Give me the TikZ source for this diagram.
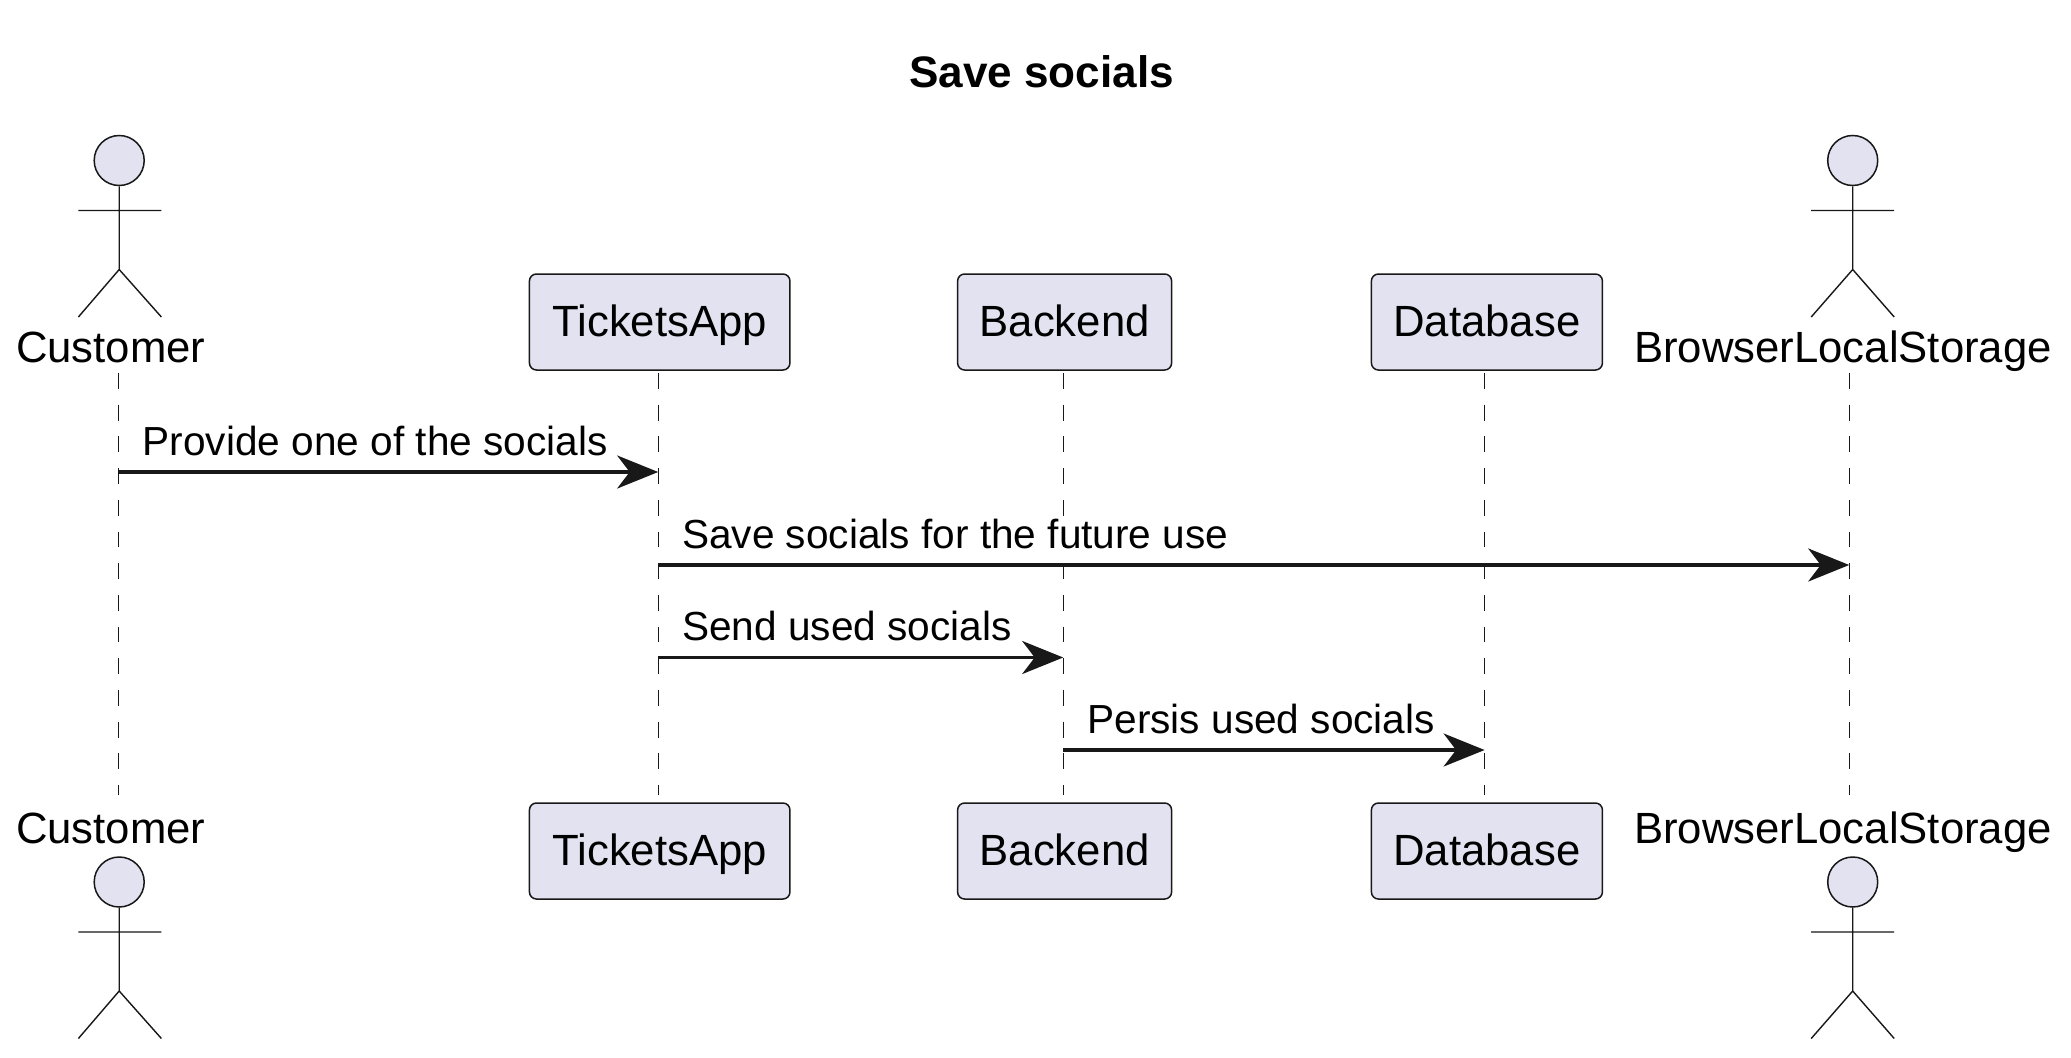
\documentclass[tikz,border=0pt]{standalone}
\usepackage{fontspec}
\setmainfont{Liberation Sans}
\usetikzlibrary{arrows.meta}
\definecolor{ink}{HTML}{181818}
\definecolor{partfill}{HTML}{E2E2F0}
\newcommand{\actorfig}[4]{% name, x of head, top of head, limb offset
  \node[head] (#1head) at (#2,#3+25) {};
  \coordinate (#1hip) at (#2,#3+134);
  \coordinate (#1lf) at (#2+#4-41.5,#3+181.5);
  \coordinate (#1rf) at (#2+#4+41.5,#3+181.5);
  \coordinate (#1al) at (#2+#4-41.5,#3+75);
  \coordinate (#1ar) at (#2+#4+41.5,#3+75);
  \draw[stick] (#1head.south) -- (#1hip) (#1al) -- (#1ar) (#1lf) -- (#1hip) -- (#1rf);
}
\tikzset{
  head/.style={circle,draw=ink,fill=partfill,line width=1.5pt,minimum size=50pt,inner sep=0pt},
  stick/.style={draw=ink,line width=1.4pt},
  partbox/.style={draw=ink,fill=partfill,line width=1.5pt,rounded corners=7pt,minimum height=96pt,inner sep=0pt,
     text height=29.4pt,text depth=0pt,font=\fontsize{43.7}{50}\selectfont,text=black},
  actorlabel/.style={inner sep=0pt,anchor=base,font=\fontsize{43.7}{50}\selectfont,text=black},
  msglabel/.style={inner sep=0pt,anchor=base west,font=\fontsize{40.6}{46}\selectfont,text=black},
  titlelabel/.style={inner sep=0pt,anchor=base,font=\bfseries\fontsize{44.1}{50}\selectfont,text=black},
  lifeline/.style={draw=ink,line width=1.4pt,dash pattern=on 15.8pt off 15.9pt},
  msg/.style={draw=ink,line width=3.4pt,-{Stealth[length=41pt,width=33pt,inset=12.5pt,ink]}},
}
\begin{document}
\begin{tikzpicture}[x=1pt,y=-1pt]
\useasboundingbox[fill=white] (0,0) rectangle (2071,1057);
\node[titlelabel] (title) at (1041.5,88) {Save socials};

% lifeline ends
\foreach \n/\x in {cust/118.3,tick/658.2,back/1063.2,data/1484.6,brow/1849.2}{
  \coordinate (\n top) at (\x,373);
  \coordinate (\n bot) at (\x,795);
  \draw[lifeline] (\n top) -- (\n bot);
}

% top participants
\actorfig{cust}{119.2}{135.5}{0.7}
\actorfig{brow}{1852.7}{135.5}{0}
\node[actorlabel] (custT) at (110.8,362) {Customer};
\node[actorlabel] (browT) at (1843,362) {BrowserLocalStorage};
\node[partbox,minimum width=260.5pt] (tickT) at (659.7,322) {TicketsApp};
\node[partbox,minimum width=214pt] (backT) at (1064.6,322) {Backend};
\node[partbox,minimum width=231pt] (dataT) at (1486.9,322) {Database};

% bottom participants
\actorfig{custb}{119.2}{857}{0.7}
\actorfig{browb}{1852.7}{857}{0}
\node[actorlabel] (custB) at (110.8,843.5) {Customer};
\node[actorlabel] (browB) at (1843,843.5) {BrowserLocalStorage};
\node[partbox,minimum width=260.5pt] (tickB) at (659.7,851) {TicketsApp};
\node[partbox,minimum width=214pt] (backB) at (1064.6,851) {Backend};
\node[partbox,minimum width=231pt] (dataB) at (1486.9,851) {Database};

% messages
\coordinate (m1a) at (118.3,472);   \coordinate (m1b) at (658.2,472);
\coordinate (m2a) at (658.2,565);   \coordinate (m2b) at (1849.2,565);
\coordinate (m3a) at (658.2,657.5); \coordinate (m3b) at (1063.2,657.5);
\coordinate (m4a) at (1063.2,750);  \coordinate (m4b) at (1484.6,750);
\draw[msg] (m1a) -- (m1b);
\draw[msg] (m2a) -- (m2b);
\draw[msg] (m3a) -- (m3b);
\draw[msg] (m4a) -- (m4b);
\node[msglabel] (l1) at (142.5,455.3) {Provide one of the socials};
\node[msglabel] (l2) at (682,548.3) {Save socials for the future use};
\node[msglabel] (l3) at (682,640.5) {Send used socials};
\node[msglabel] (l4) at (1087.2,733.3) {Persis used socials};
\end{tikzpicture}
\end{document}
